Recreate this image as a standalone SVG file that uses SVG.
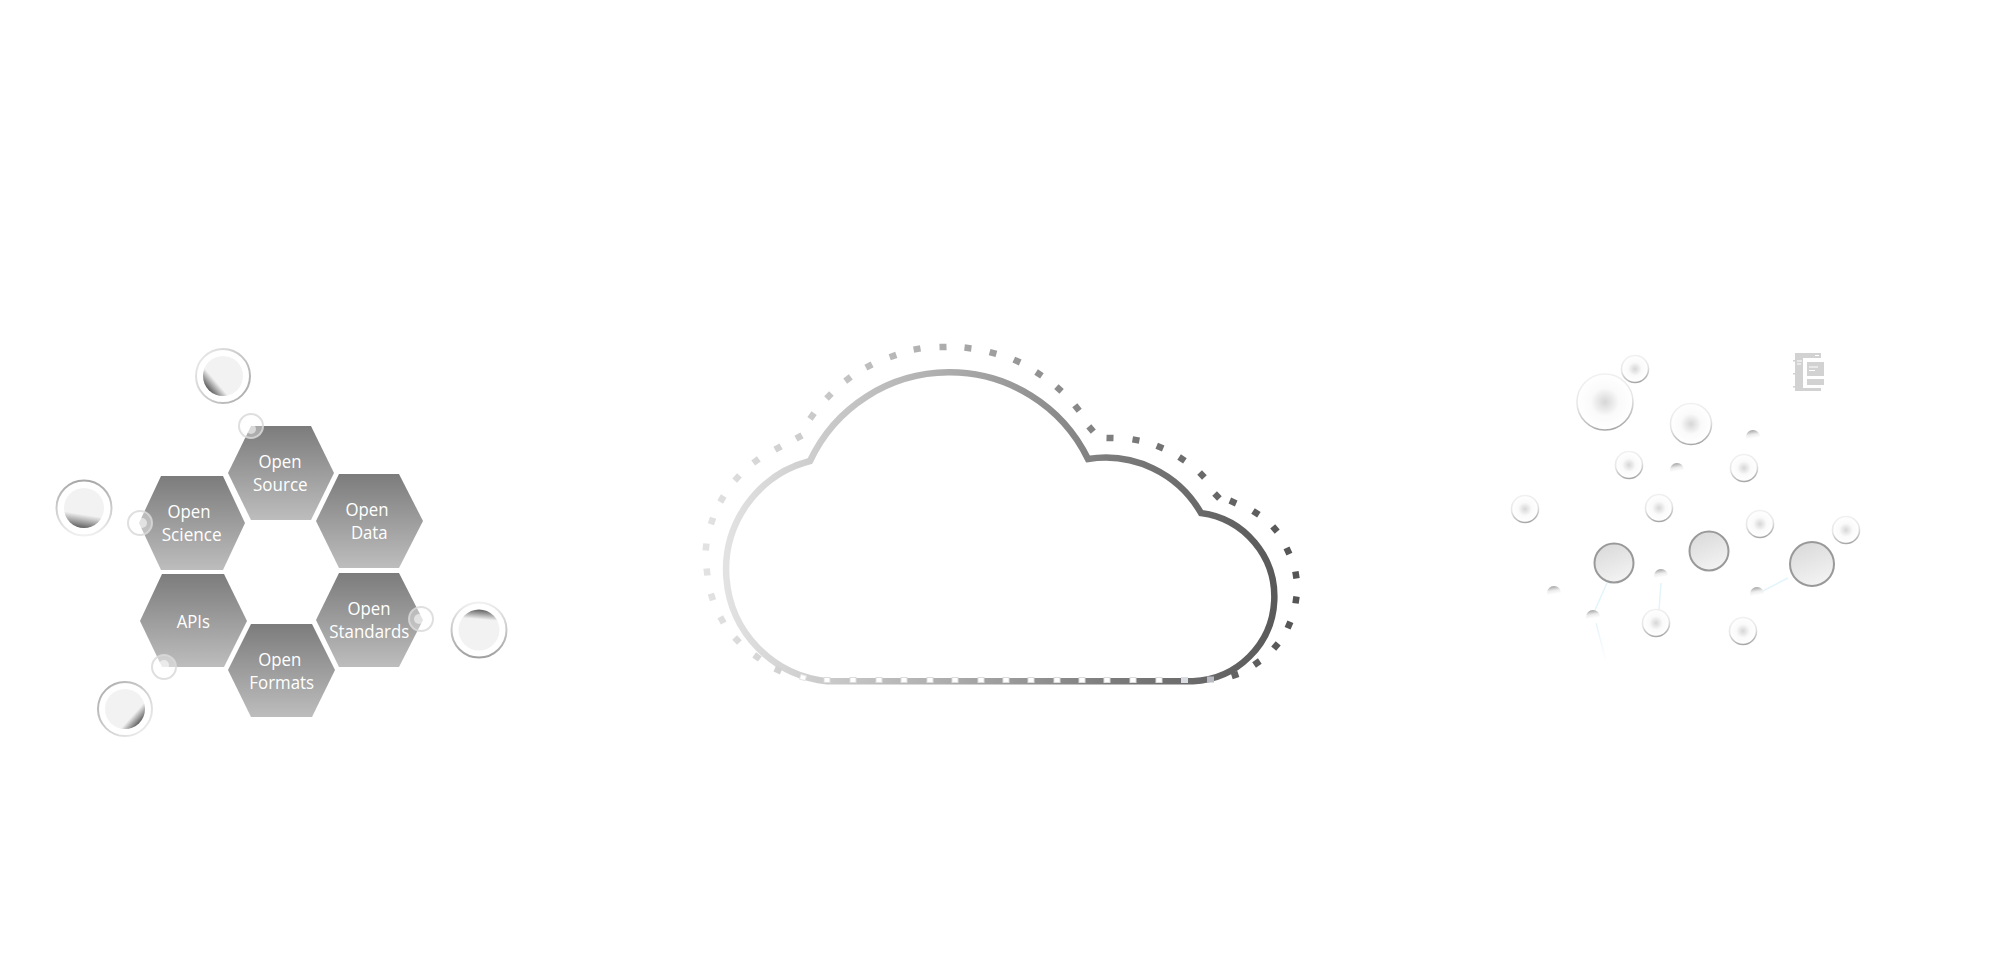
<svg xmlns="http://www.w3.org/2000/svg" width="1994" height="980" viewBox="0 0 1994 980">
<style>
.hex{fill:url(#hexG)}
.hl{font-family:"Open Sans","Noto Sans","Liberation Sans",sans-serif;font-size:18px;fill:#fff;text-anchor:middle}
.ring{fill:#fff;stroke-width:2}
.spot{fill:#fff;fill-opacity:.35;stroke:#d9d9d9;stroke-width:2;stroke-opacity:.85}
.dot{fill:#fff;fill-opacity:.55}
.nd{fill:url(#ndG);stroke:url(#ndS);stroke-width:1.6}
.gn{fill:url(#gnG);stroke:#999;stroke-width:2}
.moon{fill:url(#moonG)}
.lk{stroke:#e4f4fb;stroke-width:1.5;fill:none}
.ic{fill:#d2d2d2}
</style>
<defs>
<linearGradient id="hexG" x1="0" y1="0" x2="0" y2="1"><stop offset="0" stop-color="#7c7c7c"/><stop offset="1" stop-color="#bdbdbd"/></linearGradient>
<linearGradient id="cloudG" gradientUnits="userSpaceOnUse" x1="727" y1="0" x2="1273" y2="0"><stop offset="0" stop-color="#e2e2e2"/><stop offset=".4" stop-color="#adadad"/><stop offset=".7" stop-color="#7c7c7c"/><stop offset="1" stop-color="#5a5a5a"/></linearGradient>
<linearGradient id="dotG" gradientUnits="userSpaceOnUse" x1="706" y1="0" x2="1296" y2="0"><stop offset="0" stop-color="#e2e2e2"/><stop offset=".4" stop-color="#adadad"/><stop offset=".7" stop-color="#7c7c7c"/><stop offset="1" stop-color="#555"/></linearGradient>
<linearGradient id="inA" x1=".12" y1=".82" x2=".33" y2=".64"><stop offset="0" stop-color="#5f5f5f"/><stop offset="1" stop-color="#f2f2f2"/></linearGradient>
<linearGradient id="inB" x1=".42" y1="1" x2=".475" y2=".66"><stop offset="0" stop-color="#5f5f5f"/><stop offset="1" stop-color="#f2f2f2"/></linearGradient>
<linearGradient id="inC" x1=".54" y1="0" x2=".52" y2=".24"><stop offset="0" stop-color="#5f5f5f"/><stop offset="1" stop-color="#f2f2f2"/></linearGradient>
<linearGradient id="inD" x1=".88" y1=".83" x2=".69" y2=".66"><stop offset="0" stop-color="#5f5f5f"/><stop offset="1" stop-color="#f2f2f2"/></linearGradient>
<linearGradient id="riA" x1="0" y1="0" x2="1" y2=".7"><stop offset="0" stop-color="#efefef"/><stop offset="1" stop-color="#b0b0b0"/></linearGradient>
<linearGradient id="riB" x1=".5" y1="0" x2=".5" y2="1"><stop offset="0" stop-color="#a8a8a8"/><stop offset="1" stop-color="#f0f0f0"/></linearGradient>
<linearGradient id="riC" x1=".5" y1="0" x2=".5" y2="1"><stop offset="0" stop-color="#f0f0f0"/><stop offset="1" stop-color="#a0a0a0"/></linearGradient>
<linearGradient id="riD" x1="0" y1="0" x2="1" y2="1"><stop offset="0" stop-color="#a8a8a8"/><stop offset="1" stop-color="#f4f4f4"/></linearGradient>
<radialGradient id="ndG"><stop offset="0" stop-color="#d6d6d6"/><stop offset=".5" stop-color="#fafafa"/><stop offset="1" stop-color="#fff"/></radialGradient>
<linearGradient id="ndS" x1=".4" y1="0" x2=".6" y2="1"><stop offset="0" stop-color="#f1f1f1"/><stop offset=".5" stop-color="#e6e6e6"/><stop offset="1" stop-color="#a6a6a6"/></linearGradient>
<linearGradient id="gnG" x1=".3" y1="0" x2=".7" y2="1"><stop offset="0" stop-color="#dadada"/><stop offset="1" stop-color="#f4f4f4"/></linearGradient>
<linearGradient id="moonG" x1=".45" y1="0" x2=".6" y2=".9"><stop offset="0" stop-color="#a4a4a4"/><stop offset=".35" stop-color="#ececec"/><stop offset=".65" stop-color="#fff"/></linearGradient>
<linearGradient id="fadeL" gradientUnits="userSpaceOnUse" x1="1596" y1="623" x2="1607" y2="665"><stop offset="0" stop-color="#e4f4fb"/><stop offset="1" stop-color="#fff"/></linearGradient>
</defs>
<rect width="1994" height="980" fill="#fff"/>
<g id="connectors">
<path class="lk" d="M1607 583L1595 610M1661 583L1659 610M1763 591L1788 578"/>
<path d="M1596 623L1607 665" stroke="url(#fadeL)" stroke-width="1.5" fill="none"/>
</g>
<g id="hex-open-source"><polygon class="hex" points="228,473 251,426 311,426 334,473 311,520 251,520"/><text class="hl" x="280" y="468.300" textLength="43" lengthAdjust="spacingAndGlyphs">Open</text><text class="hl" x="280.300" y="490.700" textLength="54.500" lengthAdjust="spacingAndGlyphs">Source</text></g>
<g id="hex-open-data"><polygon class="hex" points="316,521 339,474 399,474 423,521 399,568 339,568"/><text class="hl" x="367" y="516" textLength="43" lengthAdjust="spacingAndGlyphs">Open</text><text class="hl" x="369.300" y="538.700" textLength="36.700" lengthAdjust="spacingAndGlyphs">Data</text></g>
<g id="hex-open-science"><polygon class="hex" points="139,523 161,476 223,476 245,523 223,570 161,570"/><text class="hl" x="189" y="518" textLength="43" lengthAdjust="spacingAndGlyphs">Open</text><text class="hl" x="191.700" y="541" textLength="60" lengthAdjust="spacingAndGlyphs">Science</text></g>
<g id="hex-apis"><polygon class="hex" points="140,621 162,574 224,574 247,621 224,667 162,667"/><text class="hl" x="193.300" y="627.700" textLength="33.300" lengthAdjust="spacingAndGlyphs">APIs</text></g>
<g id="hex-open-standards"><polygon class="hex" points="316,620 339,573 399,573 423,620 399,667 339,667"/><text class="hl" x="369" y="615" textLength="43" lengthAdjust="spacingAndGlyphs">Open</text><text class="hl" x="369.300" y="637.700" textLength="80" lengthAdjust="spacingAndGlyphs">Standards</text></g>
<g id="hex-open-formats"><polygon class="hex" points="228,670 251,624 312,624 335,670 312,717 251,717"/><text class="hl" x="279.700" y="666" textLength="43" lengthAdjust="spacingAndGlyphs">Open</text><text class="hl" x="281.700" y="688.700" textLength="64.700" lengthAdjust="spacingAndGlyphs">Formats</text></g>
<g id="bubble-top"><circle class="ring" cx="223" cy="376" r="27" stroke="url(#riA)"/><circle cx="223" cy="376" r="20" fill="url(#inA)"/></g>
<g id="bubble-left"><circle class="ring" cx="84" cy="508" r="27.500" stroke="url(#riB)"/><circle cx="84" cy="508" r="20" fill="url(#inB)"/></g>
<g id="bubble-right"><circle class="ring" cx="479" cy="630" r="27.500" stroke="url(#riC)"/><circle cx="479" cy="630" r="20.500" fill="url(#inC)"/></g>
<g id="bubble-bottom"><circle class="ring" cx="125" cy="709" r="27" stroke="url(#riD)"/><circle cx="125" cy="709" r="20" fill="url(#inD)"/></g>
<g id="spot-top"><circle class="spot" cx="251" cy="426" r="12"/><circle class="dot" cx="251" cy="429" r="5"/></g>
<g id="spot-left"><circle class="spot" cx="140" cy="523" r="12"/><circle class="dot" cx="142" cy="523" r="5"/></g>
<g id="spot-right"><circle class="spot" cx="421" cy="619" r="12"/><circle class="dot" cx="419" cy="619" r="5"/></g>
<g id="spot-bottom"><circle class="spot" cx="164" cy="667" r="12"/><circle class="dot" cx="164" cy="665" r="5"/></g>
<g id="cloud">
<path d="M827 681.200A112.200 112.200 0 0 1 810 461A154 154 0 0 1 1088 459A110 110 0 0 1 1201 513A84.500 84.500 0 0 1 1193 681.200Z" fill="#fff" stroke="url(#cloudG)" stroke-width="6.500" stroke-linejoin="miter"/>
<path d="M781.200 671.400l-6.400-2.800M759.800 659l-5.600-4.100M739.400 642.500l-4.800-5.100M723.700 623l-3.500-6.100M713 600.300l-2.100-6.700M707.400 575.500l-.8-7M705.700 550.500l.7-7M710.900 524.300l2.200-6.600M720.200 502l3.500-6M734.700 480.600l4.700-5.200M753.200 463l5.600-4.100M775 449.700l6.100-3.400M796 438.700l6-3.400M810 418.800l4.100-5.600M826.500 398.500l4.900-5M845.200 381.100l5.600-4.200M865.900 367.600l6.200-3.200M889.700 357.200l6.600-2.300M913.600 349.600l6.900-1.200M939.500 347.100l7-.2M964.500 347.600l6.900.8M989.600 352.100l6.800 1.800M1013.800 359.600l6.400 2.900M1036.100 372l5.800 3.900M1056.400 386.700l5.200 4.700M1074.800 405.300l4.400 5.500M1088.800 426.300l4.500 5.400M1106.500 437.900l7 .2M1132.500 439.400l6.900 1.200M1156.700 445.700l6.500 2.700M1179.100 457l5.800 3.900M1199.600 472.500l4.800 5.100M1214.600 493.500l4.800 5M1229.800 500.600l6.400 2.800M1253 511l5.900 3.800M1272.700 526.300l4.500 5.400M1286.500 547.800l2.900 6.400M1295.400 571.500l1.100 6.900M1296.500 596.500l-1 6.900M1290.400 621.800l-2.800 6.400M1278.200 643.300l-4.500 5.400M1259.800 661l-5.700 4M1238.300 673.900l-6.600 2.200" fill="none" stroke="url(#dotG)" stroke-width="6.500"/>
<path d="M823.500 680h7M849.500 680h7M875.500 680h7M900.500 680h7M926.500 680h7M951.500 680h7M977.500 680h7M1002.500 680h7M1027.500 680h7M1053.500 680h7M1078.500 680h7M1103.500 680h7M1129.500 680h7M1155.500 680h7" fill="none" stroke="#dcdcdc" stroke-width="6"/>
<path d="M824.500 680h5M850.500 680h5M876.500 680h5M901.500 680h5M927.500 680h5M952.500 680h5M978.500 680h5M1003.500 680h5M1028.500 680h5M1054.500 680h5M1079.500 680h5M1104.500 680h5M1130.500 680h5M1156.500 680h5" fill="none" stroke="#fff" stroke-width="4"/>
<path d="M806.200 678.400l-6.400-1.800" fill="none" stroke="#e4e4e4" stroke-width="6"/>
<path d="M805.300 678.200l-4.600-1.300" fill="none" stroke="#fff" stroke-width="4"/>
<path d="M1181 680h7" fill="none" stroke="#d9dde2" stroke-width="6"/>
<path d="M1207 679.500h7" fill="none" stroke="#b8bcc2" stroke-width="6"/>
</g>
<g id="node-1"><circle class="nd" cx="1605" cy="402" r="28"/></g>
<g id="node-2"><circle class="nd" cx="1635" cy="369" r="13.500"/></g>
<g id="node-3"><circle class="nd" cx="1691" cy="424" r="20.500"/></g>
<g id="node-4"><circle class="nd" cx="1629" cy="465" r="13.500"/></g>
<g id="node-5"><circle class="nd" cx="1744" cy="468" r="13.500"/></g>
<g id="node-6"><circle class="nd" cx="1525" cy="509" r="13.500"/></g>
<g id="node-7"><circle class="nd" cx="1659" cy="508" r="13.500"/></g>
<g id="node-8"><circle class="nd" cx="1760" cy="524" r="13.500"/></g>
<g id="node-9"><circle class="nd" cx="1846" cy="530" r="13.500"/></g>
<g id="node-10"><circle class="nd" cx="1656" cy="623" r="13.500"/></g>
<g id="node-11"><circle class="nd" cx="1743" cy="631" r="13.500"/></g>
<g id="hub-1"><circle class="gn" cx="1614" cy="563" r="19.500"/></g>
<g id="hub-2"><circle class="gn" cx="1709" cy="551" r="19.500"/></g>
<g id="hub-3"><circle class="gn" cx="1812" cy="564" r="22"/></g>
<g id="moons">
<circle class="moon" cx="1753" cy="437" r="7"/><circle class="moon" cx="1677" cy="470" r="7"/><circle class="moon" cx="1554" cy="593" r="7"/><circle class="moon" cx="1593" cy="617" r="7"/><circle class="moon" cx="1661" cy="576" r="7"/><circle class="moon" cx="1757" cy="594" r="7"/>
</g>
<g id="icon">
<rect class="ic" x="1795" y="353" width="26" height="5"/>
<rect class="ic" x="1795" y="358" width="8" height="30"/>
<rect class="ic" x="1795" y="388" width="26" height="3"/>
<rect class="ic" x="1807" y="362" width="17" height="14"/>
<rect class="ic" x="1807" y="379" width="17" height="6"/>
<path class="ic" d="M1793 360h2v1.500h-2zM1793 373h2v1.500h-2zM1793 386h2v1.500h-2z"/>
<path d="M1809 367h9M1809 370.500h6M1797 361h5M1797 364h4M1815 355.500h4" stroke="#fff" stroke-width="1" fill="none"/>
</g>
</svg>
